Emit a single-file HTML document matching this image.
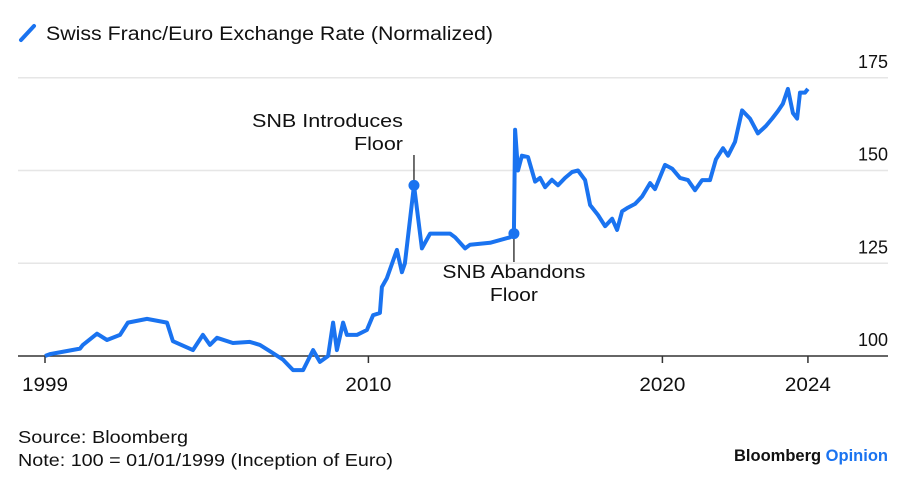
<!DOCTYPE html>
<html><head><meta charset="utf-8"><style>
body{margin:0;background:#fff;width:917px;height:489px;overflow:hidden;font-family:"Liberation Sans",sans-serif}
</style></head><body>
<svg width="917" height="489" viewBox="0 0 917 489" font-family="Liberation Sans, sans-serif">
<g>
<line x1="21" y1="40" x2="34" y2="26" stroke="#1a73f0" stroke-width="4" stroke-linecap="round"/>
<text x="46" y="40" font-size="19" fill="#111" textLength="447" lengthAdjust="spacingAndGlyphs">Swiss Franc/Euro Exchange Rate (Normalized)</text>
</g>
<g id="grid"></g>
<g id="yl"></g>
<g id="xl"></g>
<g id="ann"></g>
<path id="line" fill="none" stroke="#1a73f0" stroke-width="4" stroke-linejoin="round"/>
<g id="dots"></g>
<text x="18" y="443" font-size="17.5" fill="#111" textLength="170" lengthAdjust="spacingAndGlyphs">Source: Bloomberg</text>
<text x="18" y="466" font-size="17.5" fill="#111" textLength="375" lengthAdjust="spacingAndGlyphs">Note: 100 = 01/01/1999 (Inception of Euro)</text>
<text x="888" y="461" font-size="16.5" font-weight="bold" text-anchor="end"><tspan fill="#111">Bloomberg </tspan><tspan fill="#1a73f0">Opinion</tspan></text>
</svg>
<script>
const years=[1999.0,1999.17,2000.19,2000.29,2000.77,2001.11,2001.55,2001.82,2002.47,2003.15,2003.35,2004.03,2004.37,2004.61,2004.85,2005.39,2005.97,2006.31,2006.65,2007.1,2007.44,2007.78,2008.12,2008.35,2008.63,2008.8,2008.93,2009.14,2009.27,2009.61,2009.95,2010.16,2010.39,2010.46,2010.63,2010.97,2011.14,2011.24,2011.55,2011.82,2012.1,2012.78,2012.95,2013.29,2013.46,2014.14,2014.82,2014.95,2014.99,2015.09,2015.22,2015.43,2015.67,2015.84,2016.01,2016.24,2016.45,2016.69,2016.93,2017.13,2017.37,2017.54,2017.81,2018.05,2018.29,2018.46,2018.63,2018.83,2019.07,2019.31,2019.58,2019.75,2020.09,2020.33,2020.6,2020.87,2021.11,2021.35,2021.62,2021.82,2022.06,2022.23,2022.47,2022.71,2022.98,2023.25,2023.52,2023.73,2023.93,2024.1,2024.27,2024.44,2024.58,2024.68,2024.85,2024.95];
const rates=[100,100.5,102,103,106,104.3,105.7,109,110,109,104,101.6,105.7,103,104.9,103.5,103.8,103,101.3,99,96.2,96.2,101.6,98.4,100,109,101.6,109,105.7,105.7,107,111,111.6,118.6,121,128.6,122.6,125,146,129,133,133,132,129,130,130.5,132,133,161,150,154,153.6,147,148,145.5,147.5,146,148,149.6,150,147.4,140.7,138,135,137,134,139,140,141,143,146.6,145,151.5,150.5,148,147.4,144.7,147.4,147.4,153,156,154,157.7,166.2,164,160,162,164,166,168,172,165.5,164,171,171,172];
const yTicks=[100,125,150,175];
const xTickYears=[1999,2010,2020,2024.95];
const xTickLabels=["1999","2010","2020","2024"];
const events=[{year:2011.55,value:146,label:["SNB Introduces","Floor"]},{year:2014.95,value:133,label:["SNB Abandons","Floor"]}];
const NS="http://www.w3.org/2000/svg";
const X=y=>45+(y-1999)*29.4;
const Y=v=>356-(v-100)*3.71;
function mk(t,a,p){const e=document.createElementNS(NS,t);for(const k in a)e.setAttribute(k,a[k]);p.appendChild(e);return e;}
const grid=document.getElementById('grid'),yl=document.getElementById('yl'),xl=document.getElementById('xl'),ann=document.getElementById('ann'),dots=document.getElementById('dots');
yTicks.forEach(v=>{
 if(v!==100){const g=mk('line',{x1:18,x2:888,y1:Y(v),y2:Y(v),stroke:'#e6e6e6','stroke-width':1.5},grid);
 
 }
 const t=mk('text',{x:888,y:Y(v)-10,'font-size':18,'text-anchor':'end',fill:'#111'},yl);t.textContent=v;
 
 
});
const ax=mk('line',{x1:18,x2:888,y1:356,y2:356,stroke:'#333','stroke-width':1.5},xl);


xTickYears.forEach((y,i)=>{
 const tk=mk('line',{x1:X(y),x2:X(y),y1:356,y2:363,stroke:'#333','stroke-width':1.5},xl);
 
 
 const t=mk('text',{x:X(y),y:391,'font-size':19,'text-anchor':'middle',fill:'#111',textLength:46,lengthAdjust:'spacingAndGlyphs'},xl);t.textContent=xTickLabels[i];
 
 
});
document.getElementById('line').setAttribute('d',years.map((y,i)=>(i?'L':'M')+X(y).toFixed(1)+','+Y(rates[i]).toFixed(1)).join(''));
const lens=[[151,49],[143,48]];
events.forEach((e,i)=>{
 const x=X(e.year),y=Y(e.value);
 if(i===0){
  const l=mk('line',{x1:x,x2:x,y1:155,y2:y,stroke:'#222','stroke-width':1.3},ann);
  
  
  e.label.forEach((s,j)=>{const t=mk('text',{x:x-11,y:127+j*23,'font-size':18.5,'text-anchor':'end',fill:'#111',textLength:lens[i][j],lengthAdjust:'spacingAndGlyphs'},ann);t.textContent=s;
  
  });
 }else{
  const l=mk('line',{x1:x,x2:x,y1:y,y2:262,stroke:'#222','stroke-width':1.3},ann);
  
  
  e.label.forEach((s,j)=>{const t=mk('text',{x:x,y:278+j*23,'font-size':18.5,'text-anchor':'middle',fill:'#111',textLength:lens[i][j],lengthAdjust:'spacingAndGlyphs'},ann);t.textContent=s;
  
  });
 }
 const d=mk('circle',{cx:x,cy:y,r:5.5,fill:'#1a73f0'},dots);
 
 
});
</script>
</body></html>
